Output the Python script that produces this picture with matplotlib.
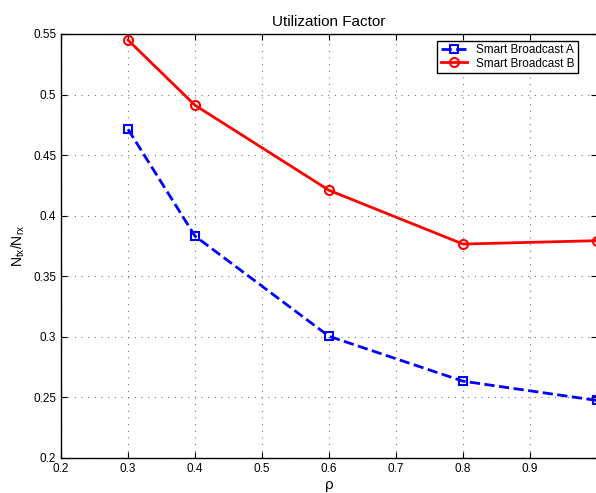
import matplotlib
matplotlib.use("Agg")
import matplotlib.pyplot as plt

plt.rcParams['font.family'] = ['Liberation Sans', 'DejaVu Sans']
plt.rcParams['mathtext.fontset'] = 'custom'
plt.rcParams['mathtext.rm'] = 'Liberation Sans'
plt.rcParams['mathtext.it'] = 'Liberation Sans'

rho = [0.3, 0.4, 0.6, 0.8, 1.0]
util_a = [0.4714, 0.3832, 0.3005, 0.2634, 0.2475]
util_b = [0.545, 0.4912, 0.421, 0.3766, 0.3794]
xticks = [0.2, 0.3, 0.4, 0.5, 0.6, 0.7, 0.8, 0.9, 1.0]
xlabels = ['0.2', '0.3', '0.4', '0.5', '0.6', '0.7', '0.8', '0.9', '']
yticks = [0.2, 0.25, 0.3, 0.35, 0.4, 0.45, 0.5, 0.55]
ylabels = ['0.2', '0.25', '0.3', '0.35', '0.4', '0.45', '0.5', '0.55']

fig = plt.figure(figsize=(5.96, 4.93), dpi=100)
ax = fig.add_axes([61 / 596, 35 / 493, 536 / 596, 424 / 493])

ax.plot(rho, util_a, 'b--s', lw=2, ms=5.5, mfc='none', mew=1.5,
        label='Smart Broadcast A', clip_on=False)
ax.plot(rho, util_b, 'r-o', lw=2, ms=6.5, mfc='none', mew=1.5,
        label='Smart Broadcast B', clip_on=False)

ax.set_xlim(0.2, 1.0)
ax.set_ylim(0.2, 0.55)
ax.set_xticks(xticks)
ax.set_xticklabels(xlabels)
ax.set_yticks(yticks)
ax.set_yticklabels(ylabels)
ax.tick_params(direction='in', top=True, right=True, labelsize=8.5, length=4)
ax.grid(True, linestyle=(0, (1, 5)), color='#777777', lw=0.8)
for s in ax.spines.values():
    s.set_linewidth(1)

ax.set_title('Utilization Factor', fontsize=11)
ax.set_xlabel('ρ', fontsize=11, labelpad=2)
ax.set_ylabel(r'$\mathregular{N_{tx}/N_{rx}}$', fontsize=10)

leg = ax.legend(loc='upper right', bbox_to_anchor=(0.965, 0.984), fontsize=8.5,
                fancybox=False, framealpha=1, edgecolor='black', borderaxespad=0,
                borderpad=0.3, handlelength=2.2, labelspacing=0.1)
leg.get_frame().set_linewidth(1)

fig.savefig('out.png', dpi=100)
